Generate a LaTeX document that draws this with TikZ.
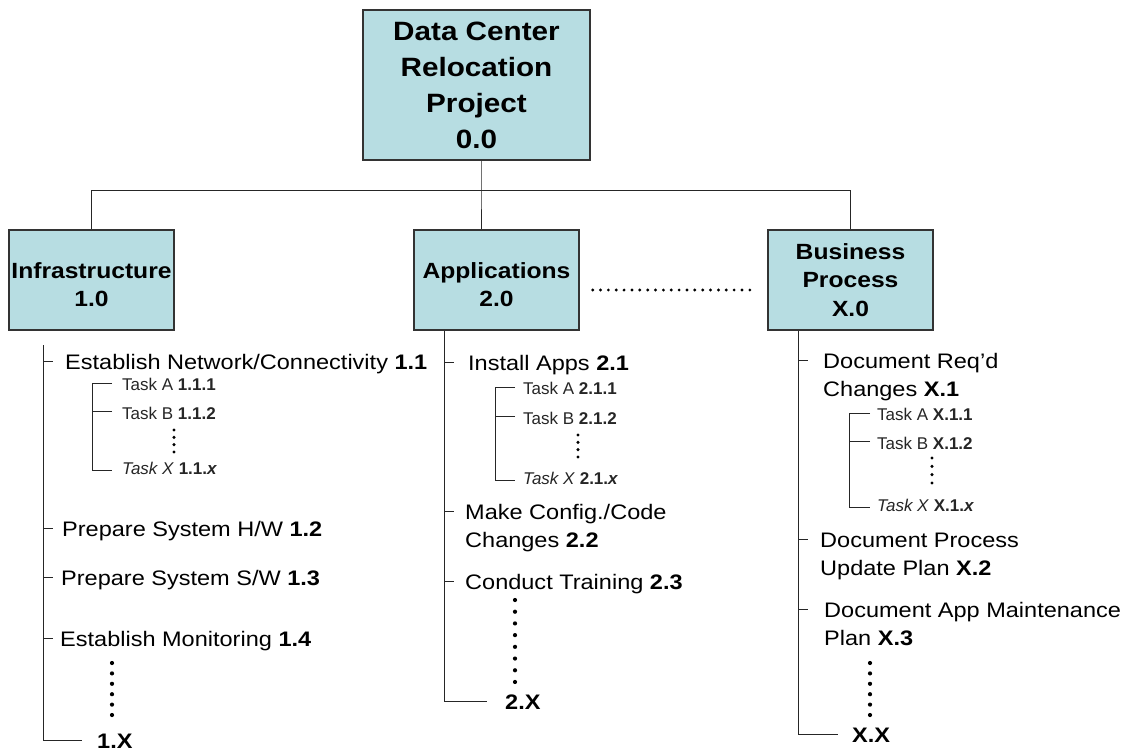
\documentclass[tikz,border=0pt]{standalone}
\usepackage{fontspec}
\setmainfont{Liberation Sans}[FakeStretch=1.12]
\newfontfamily\taskfont{Liberation Sans}
\definecolor{boxblue}{RGB}{183,221,226}

\begin{document}
\begin{tikzpicture}[x=1pt,y=-1pt]

        % Styles
        \tikzset{
          wbsbox/.style={draw=black!80,line width=1.3pt,fill=boxblue,
                         minimum width=165pt,minimum height=100pt,inner sep=0pt,
                         align=center,font=\fontsize{22}{28.5}\selectfont\bfseries},
          item/.style={anchor=base west,align=left,inner sep=0pt,
                       font=\fontsize{21}{28}\selectfont},
          last/.style={item,font=\fontsize{21}{28}\selectfont\bfseries},
          task/.style={anchor=base west,inner sep=0pt,text=black!85,
                       font=\taskfont\fontsize{17}{20}\selectfont},
          link/.style={draw=black!85,line width=0.9pt},
          dots/.style={line width=4.2pt,line cap=round,dash pattern=on 0pt off #1},
          dots/.default=10.4pt
        }

        \useasboundingbox (0,0) rectangle (1130,750);

        % x-coordinates of the three trunks
        \coordinate (c1) at (43,345);
        \coordinate (c2) at (444,0);
        \coordinate (c3) at (798,0);
        \coordinate (bus) at (481,190);

        %-------------------------------
        % Boxes
        %-------------------------------
        \node[wbsbox,minimum width=227pt,minimum height=150pt,
              font=\fontsize{26.5}{36}\selectfont\bfseries] (top) at (476.5,85)
        {Data Center\\Relocation\\Project\\0.0};

        \node[wbsbox,text height=54pt] (infra) at (91.5,280)  {Infrastructure\\1.0};
        \node[wbsbox,text height=54pt] (app)   at (496.5,280) {Applications\\2.0};
        \node[wbsbox] (biz) at (850.5,280) {Business\\Process\\X.0};

        \draw[link] (top.south -| bus) -- (bus) -- (app.north -| bus);
        \draw[link] (infra.north) |- (biz.north |- bus) -- (biz.north);

        \draw[dots=7.86pt,line width=3.2pt] ([xshift=13pt,yshift=-10pt]app.east)
              -- ([xshift=-10.5pt,yshift=-10pt]biz.west);

        %-------------------------------
        % Infrastructure 1.0
        %-------------------------------
        \node[item] (i11) at (65,369) {Establish Network/Connectivity \textbf{1.1}};
        \node[task] (t11a) at (122,390) {Task A \textbf{1.1.1}};
        \node[task] (t11b) at (122,419) {Task B \textbf{1.1.2}};
        \node[task] (t11x) at (122,474) {\textit{Task X} \textbf{1.1.\textit{x}}};
        \node[item] (i12) at (62,536) {Prepare System H/W \textbf{1.2}};
        \node[item] (i13) at (61,585) {Prepare System S/W \textbf{1.3}};
        \node[item] (i14) at (60,646) {Establish Monitoring \textbf{1.4}};
        \node[last] (i1x) at (97,748) {1.X};

        \draw[link] (c1) |- ([xshift=-15pt]i1x.west);
        \foreach \n in {i11,i12,i13,i14}
            \draw[link] (c1 |- \n.base) ++(0,-8) -- ++(10,0);

        \draw[link] ([xshift=-10pt,yshift=7pt]t11a.base west) -- ++(-20,0)
              |- ([xshift=-10pt,yshift=4pt]t11x.base west);
        \draw[link] ([xshift=-10pt,yshift=8pt]t11b.base west) -- ++(-20,0);

        \draw[dots=7.33pt,line width=3.4pt] (174,430) -- (174,452.3);
        \draw[dots] (112,663) -- (112,715.3);

        %-------------------------------
        % Applications 2.0
        %-------------------------------
        \node[item] (i21) at (468,370) {Install Apps \textbf{2.1}};
        \node[task] (t21a) at (523,394) {Task A \textbf{2.1.1}};
        \node[task] (t21b) at (523,424) {Task B \textbf{2.1.2}};
        \node[task] (t21x) at (523,484) {\textit{Task X} \textbf{2.1.\textit{x}}};
        \node[item] (i22) at (465,547) {Make Config./Code\\Changes \textbf{2.2}};
        \node[item] (i23) at (465,589) {Conduct Training \textbf{2.3}};
        \node[last] (i2x) at (505,709) {2.X};

        \draw[link] (app.south -| c2) |- ([xshift=-18pt]i2x.west);
        % second number: distance from the base line up to the tick
        \foreach \n/\d in {i21/8,i22/36,i23/8}
            \draw[link] (c2 |- \n.base) ++(0,-\d) -- ++(10,0);

        \draw[link] ([xshift=-8pt,yshift=7pt]t21a.base west) -- ++(-20,0)
              |- ([xshift=-8pt,yshift=4pt]t21x.base west);
        \draw[link] ([xshift=-8pt,yshift=8pt]t21b.base west) -- ++(-20,0);

        \draw[dots=7.33pt,line width=3.4pt] (578,435) -- (578,457.3);
        \draw[dots=11.71pt] (515,600) -- (515,682.3);

        %-------------------------------
        % Business Process X.0
        %-------------------------------
        \node[item] (x1) at (823,396) {Document Req'd\\Changes \textbf{X.1}};
        \node[task] (tx1a) at (877,420) {Task A \textbf{X.1.1}};
        \node[task] (tx1b) at (877,449) {Task B \textbf{X.1.2}};
        \node[task] (tx1x) at (877,511) {\textit{Task X} \textbf{X.1.\textit{x}}};
        \node[item] (x2) at (820,575) {Document Process\\Update Plan \textbf{X.2}};
        \node[item] (x3) at (824,645) {Document App Maintenance\\Plan \textbf{X.3}};
        \node[last] (xx) at (852,742) {X.X};

        \draw[link] (biz.south -| c3) |- ([xshift=-14pt]xx.west);
        \foreach \n in {x1,x2,x3}
            \draw[link] (c3 |- \n.base) ++(0,-36) -- ++(10,0);

        \draw[link] ([xshift=-7pt,yshift=7pt]tx1a.base west) -- ++(-21,0)
              |- ([xshift=-7pt,yshift=4pt]tx1x.base west);
        \draw[link] ([xshift=-7pt,yshift=8pt]tx1b.base west) -- ++(-21,0);

        \draw[dots=8.33pt,line width=3.4pt] (932,458) -- (932,483.3);
        \draw[dots] (870,663) -- (870,715.3);

\end{tikzpicture}
\end{document}
